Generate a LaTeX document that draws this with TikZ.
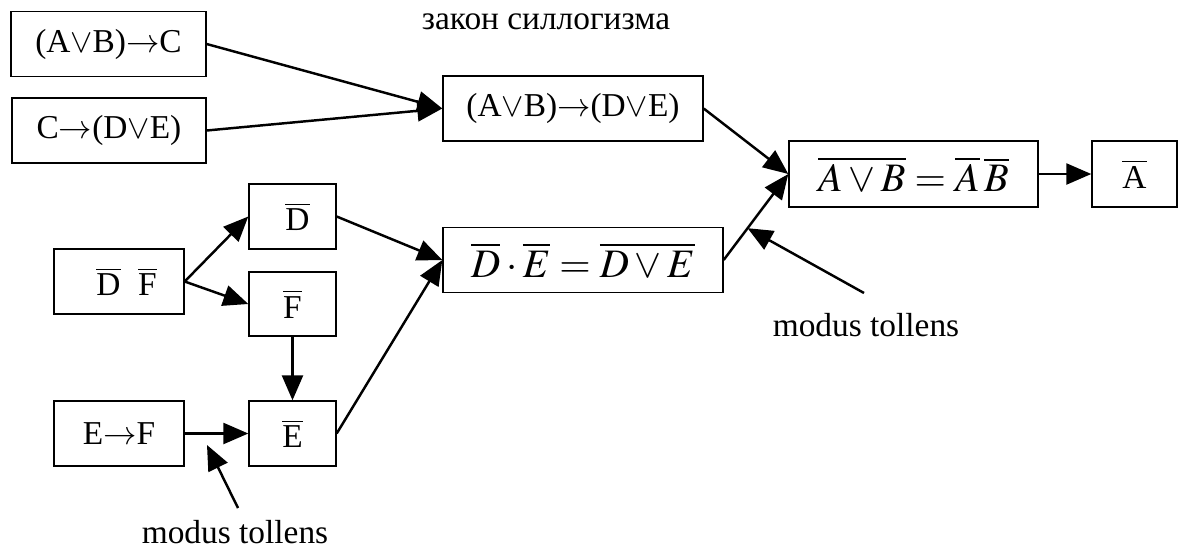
\documentclass[tikz,border=0pt]{standalone}
\usepackage{mathptmx}
\usepackage{fontspec}
\setmainfont{Liberation Serif}
\usepackage{tikz}
\usetikzlibrary{positioning, arrows.meta, calc}

% 带横线的直立字母
\newcommand{\nbar}[1]{$\overline{\mbox{#1}}$}

\begin{document}
\begin{tikzpicture}[x=0.02cm, y=-0.02cm]
	% 样式
	\tikzset{
		every node/.style={font=\fontsize{19}{23}\selectfont},
		box/.style = {
			draw, line width=0.8pt,
			inner sep=0pt,
			minimum height=1.3cm
		},
		bigmath/.style = {font=\fontsize{23}{27}\selectfont},
		flow/.style = {
			line width=1.4pt,
			-{Triangle[length=0.5cm, width=0.42cm]}
		}
	}
	\useasboundingbox (0,0) rectangle (1178,552);
	
	% 上方两条前提与三段论结论
	\node[box, minimum width=3.9cm] (imp1) at (108.5,44) {(A$\vee$B)$\rightarrow$C};
	\node[box, minimum width=3.88cm] (imp2) at (109,130.5) {C$\rightarrow$(D$\vee$E)};
	\node[box, minimum width=5.2cm] (syl) at (573,108.5) {(A$\vee$B)$\rightarrow$(D$\vee$E)};
	\node (sylname) at (546,22) {закон силлогизма};
	
	% 右侧结论
	\node[box, bigmath, minimum width=4.98cm, minimum height=1.32cm] (morgan) at (913.5,174) {$\overline{A\vee B}=\overline{A}\,\overline{B}$};
	\node[box, minimum width=1.7cm, minimum height=1.32cm] (notA) at (1134.5,174) {\nbar{A}};
	
	% 下方左侧各框
	\node[box, minimum width=2.6cm] (notDF) at (119,281.5) {\hspace*{0.3cm}\nbar{D}\hspace{0.35cm}\nbar{F}};
	\node[box, minimum width=1.74cm] (notD) at (292.5,216.5) {\hspace*{0.2cm}\nbar{D}};
	\node[box, minimum width=1.74cm, minimum height=1.28cm] (notF) at (292.5,304) {\nbar{F}};
	\node[box, minimum width=1.74cm] (notE) at (292.5,433.5) {\nbar{E}};
	\node[box, minimum width=2.6cm] (impEF) at (119,433.5) {E$\rightarrow$F};
	\node[box, bigmath, minimum width=5.6cm] (notDE) at (583,260) {$\overline{D}\cdot\overline{E}=\overline{D\vee E}$};
	
	% 注释文字
	\node (mt1) at (866,325) {modus tollens};
	\node (mt2) at (235,532) {modus tollens};
	
	% 连线
	\draw[flow] (imp1.east) -- (syl.west);
	\draw[flow] (imp2.east) -- (syl.west);
	\draw[flow] (syl.east) -- (morgan.west);
	\draw[flow] (notDE.east) -- (morgan.west);
	\draw[flow] (morgan.east) -- (notA.west);
	\draw[flow] (notDF.east) -- (notD.west);
	\draw[flow] (notDF.east) -- (notF.west);
	\draw[flow] (notF.south) -- (notE.north);
	\draw[flow] (impEF.east) -- (notE.west);
	\draw[flow] (notD.east) -- (notDE.west);
	\draw[flow] (notE.east) -- (notDE.west);
	
	% modus tollens 的指示箭头
	\coordinate (mt1tail) at (864,293);
	\coordinate (mt1tip) at ($(notDE.east)!0.37!(morgan.west)$);
	\draw[flow] (mt1tail) -- (mt1tip);
	\coordinate (mt2tail) at (238,508);
	\coordinate (mt2tip) at (207,445);
	\draw[flow] (mt2tail) -- (mt2tip);
\end{tikzpicture}
\end{document}
